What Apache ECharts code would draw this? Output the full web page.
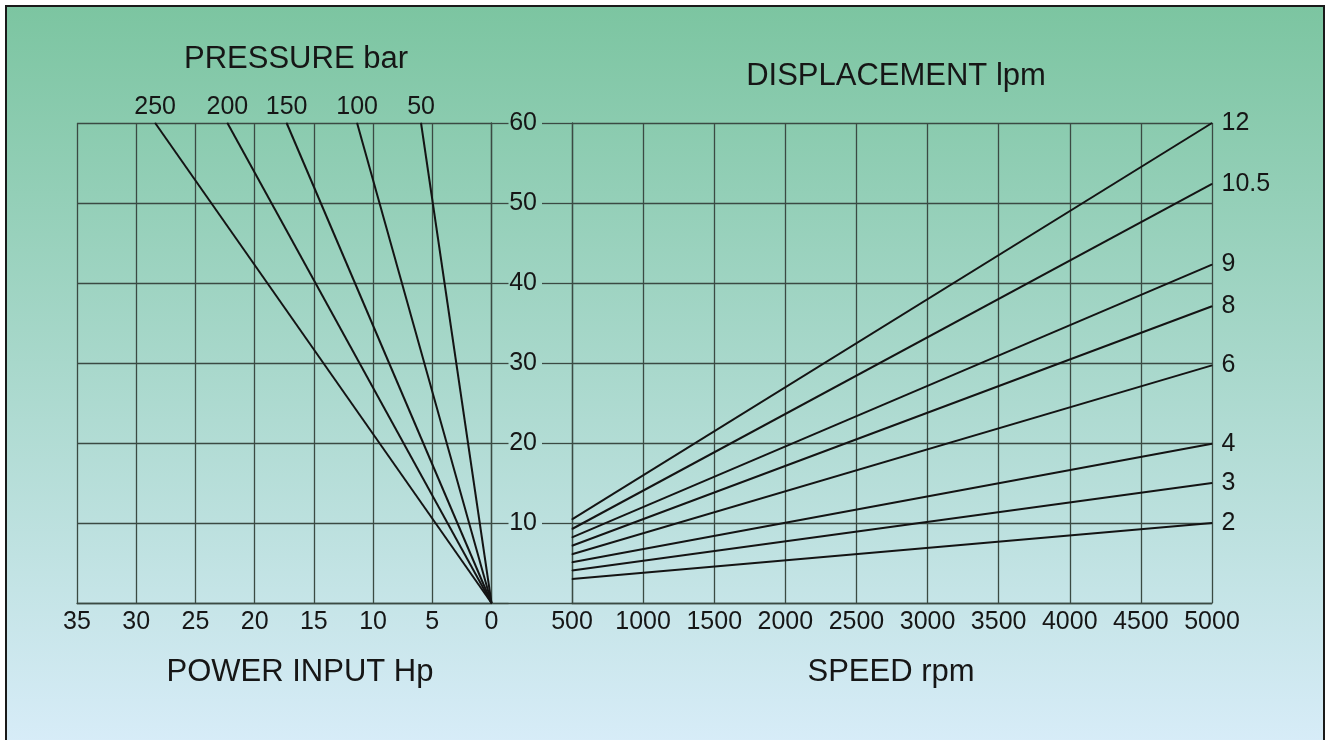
<!DOCTYPE html>
<html>
<head>
<meta charset="utf-8">
<script src="https://cdn.jsdelivr.net/npm/echarts@6/dist/echarts.min.js"></script>
<style>
  html, body { margin: 0; padding: 0; background: #ffffff; overflow: hidden; width: 1325px; height: 740px; }
  #bg { position: absolute; left: 5px; top: 5px; width: 1320px; height: 800px; box-sizing: border-box;
        border: 2px solid #1a1a1a; background: linear-gradient(to bottom, #7cc5a1 0px, #d7ecf8 735px); }
  #chart { position: absolute; left: 0; top: 0; width: 1325px; height: 740px; }
</style>
</head>
<body>
<div id="bg"></div>
<div id="chart"></div>
<script>
// ---- data ----
const pressureLabels = ['250', '200', '150', '100', '50'];
const powerAtTop = [28.4, 22.3, 17.3, 11.35, 5.95];   // Hp reached at 60 (top) for each pressure
const displacementLabels = ['12', '10.5', '9', '8', '6', '4', '3', '2'];
const speedStart = 500;
const speedEnd = 5000;
const flowAtStart = [10.45, 9.25, 8.2, 7.15, 6.1, 5.1, 4.05, 3.0];
const flowAtEnd = [60, 52.4, 42.3, 37.1, 29.7, 19.9, 15, 10];

const FONT = 'Liberation Sans, Arial, sans-serif';
const TXT = '#161616';
const GRIDC = '#3b4a43';
const LINEC = '#141414';
const NUMSIZE = 25;

const chart = echarts.init(document.getElementById('chart'), null, { renderer: 'canvas' });

const series = [];
pressureLabels.forEach((p, i) => {
  series.push({
    type: 'line', name: 'P' + p, xAxisIndex: 0, yAxisIndex: 0,
    symbol: 'circle', symbolSize: 1, showSymbol: true, silent: true,
    itemStyle: { color: LINEC },
    lineStyle: { color: LINEC, width: 2 },
    data: [
      { value: [0, 0] },
      { value: [powerAtTop[i], 60],
        label: { show: true, position: 'top', distance: 3, formatter: p,
                 fontSize: NUMSIZE, fontFamily: FONT, color: TXT } }
    ]
  });
});
displacementLabels.forEach((d, i) => {
  series.push({
    type: 'line', name: 'D' + d, xAxisIndex: 1, yAxisIndex: 1,
    symbol: 'circle', symbolSize: 1, showSymbol: true, silent: true,
    itemStyle: { color: LINEC },
    lineStyle: { color: LINEC, width: 2 },
    data: [
      { value: [speedStart, flowAtStart[i]] },
      { value: [speedEnd, flowAtEnd[i]],
        label: { show: true, position: 'right', distance: 9, formatter: d,
                 fontSize: NUMSIZE, fontFamily: FONT, color: TXT } }
    ]
  });
});
// empty series so the middle strip axis exists
series.push({ type: 'line', xAxisIndex: 2, yAxisIndex: 2, data: [], silent: true });

const splitLine = { show: true, lineStyle: { color: GRIDC, width: 1.3 } };
const axisLine = { show: true, lineStyle: { color: GRIDC, width: 1.3 } };
const tickLabel = { fontSize: NUMSIZE, fontFamily: FONT, color: TXT };
const titleStyle = { fontSize: 31, fontWeight: 'normal', color: TXT, fontFamily: FONT };

const option = {
  animation: false,
  textStyle: { fontFamily: FONT },
  title: [
    { text: 'PRESSURE bar', left: 291, top: 39, textAlign: 'center', textStyle: titleStyle },
    { text: 'DISPLACEMENT lpm', left: 891, top: 56, textAlign: 'center', textStyle: titleStyle },
    { text: 'POWER INPUT Hp', left: 295, top: 652, textAlign: 'center', textStyle: titleStyle },
    { text: 'SPEED rpm', left: 886, top: 652, textAlign: 'center', textStyle: titleStyle }
  ],
  grid: [
    { left: 77, right: 833.5, top: 123, bottom: 137 },
    { left: 572, right: 113, top: 123, bottom: 137 },
    { left: 491.5, right: 753, top: 123, bottom: 137 }
  ],
  xAxis: [
    { gridIndex: 0, type: 'value', min: 0, max: 35, interval: 5, inverse: true,
      axisLine: axisLine, axisTick: { show: false }, splitLine: splitLine,
      axisLabel: Object.assign({ margin: 7, showMinLabel: true, showMaxLabel: true,
        formatter: v => String(v) }, tickLabel) },
    { gridIndex: 1, type: 'value', min: speedStart, max: speedEnd, interval: 500,
      axisLine: axisLine, axisTick: { show: false }, splitLine: splitLine,
      axisLabel: Object.assign({ margin: 7, showMinLabel: true, showMaxLabel: true,
        formatter: v => String(v) }, tickLabel) },
    { gridIndex: 2, type: 'value', min: 0, max: 1,
      axisLine: axisLine, axisTick: { show: false }, splitLine: { show: false },
      axisLabel: { show: false } }
  ],
  yAxis: [
    { gridIndex: 0, type: 'value', min: 0, max: 60, interval: 10, position: 'right',
      axisLine: axisLine, splitLine: splitLine,
      axisTick: { show: true, inside: false, length: 17, lineStyle: { color: GRIDC, width: 1.3 } },
      axisLabel: { show: false } },
    { gridIndex: 1, type: 'value', min: 0, max: 60, interval: 10, position: 'left',
      axisLine: axisLine, splitLine: splitLine,
      axisTick: { show: true, inside: false, length: 30, lineStyle: { color: GRIDC, width: 1.3 } },
      axisLabel: Object.assign({ margin: 35, showMinLabel: false,
        formatter: v => (v === 0 ? '' : String(v)) }, tickLabel) },
    { gridIndex: 2, type: 'value', min: 0, max: 60, show: false }
  ],
  series: series
};
chart.setOption(option);
</script>
</body>
</html>
